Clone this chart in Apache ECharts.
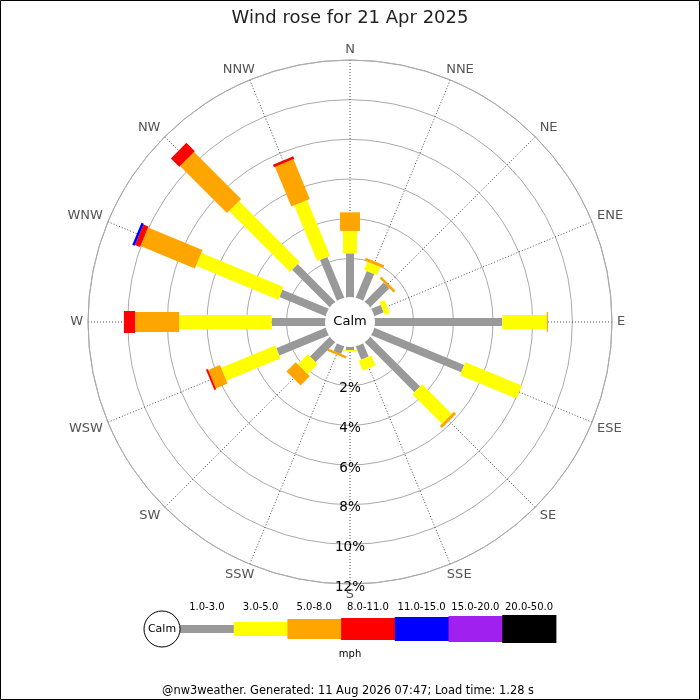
<!DOCTYPE html>
<html>
<head>
<meta charset="utf-8">
<script src="https://cdn.jsdelivr.net/npm/echarts@6/dist/echarts.min.js"></script>
<style>
html,body{margin:0;padding:0;background:#fff;}
#chart{width:700px;height:700px;}
</style>
</head>
<body>
<div id="chart"></div>
<script>
// ---- data (percent of time per direction, per speed band) ----
const directions = ['N','NNE','NE','ENE','E','ESE','SE','SSE','S','SSW','SW','WSW','W','WNW','NW','NNW'];
const speedBands = ['1.0-3.0','3.0-5.0','5.0-8.0','8.0-11.0','11.0-15.0','15.0-20.0','20.0-50.0'];
const band1to3   = [2.25,1.49,1.40,0.55,6.47,4.94,3.59,0.76,0.20,0.45,1.45,2.73,2.74,2.56,2.72,2.26];
const band3to5   = [1.13,0.45,0.00,0.27,2.24,3.08,2.11,0.55,0.07,0.00,0.71,2.95,4.66,4.49,4.34,3.04];
const band5to8   = [0.94,0.15,0.13,0.00,0.06,0.00,0.15,0.00,0.00,0.12,0.66,0.64,2.23,2.97,3.35,2.17];
const band8to11  = [0,0,0,0,0,0,0,0,0,0,0,0.10,0.56,0.27,0.60,0.13];
const band11to15 = [0,0,0,0,0,0,0,0,0,0,0,0,0,0.13,0,0];
const band15to20 = [0,0,0,0,0,0,0,0,0,0,0,0,0,0,0,0];
const band20to50 = [0,0,0,0,0,0,0,0,0,0,0,0,0,0,0,0];
const ringTicks  = [2,4,6,8,10,12];
const ringLabels = ['2%','4%','6%','8%','10%','12%'];
const titleText  = 'Wind rose for 21 Apr 2025';
const unitText   = 'mph';
const calmText   = 'Calm';
const footerText = '@nw3weather. Generated: 11 Aug 2026 07:47; Load time: 1.28 s';

// ---- styles ----
const bandColors = ['#999999','#ffff00','#ffa500','#ff0000','#0000ff','#a020f0','#000000'];
const bandWidths = [8,14,20,22,24,26,28];
const CX = 350, CY = 322, R0 = 24, R1 = 262;
const FONT = 'DejaVu Sans';

const bandValues = [band1to3,band3to5,band5to8,band8to11,band11to15,band15to20,band20to50];
const step = 360 / directions.length;

const barData = [];
directions.forEach((d, i) => {
  let cum = 0;
  bandValues.forEach((arr, b) => {
    const v = arr[i];
    if (v > 0) { barData.push([cum, cum + v, i * step, b]); cum += v; }
  });
});

const measureCtx = document.createElement('canvas').getContext('2d');
function textWidth(t, font) { measureCtx.font = font; return measureCtx.measureText(t).width; }

function unitVec(api, params, a) {
  const cs = params.coordSys;
  const pr = api.coord([12, a]);
  let ux = pr[0] - cs.cx, uy = pr[1] - cs.cy;
  const L = Math.hypot(ux, uy);
  return [ux / L, uy / L];
}

const chart = echarts.init(document.getElementById('chart'), null, {renderer: 'canvas'});

const legendGraphics = [];
const legX0 = 180, legW = 53.7, legCY = 629;
legendGraphics.push({type:'circle', shape:{cx:162, cy:legCY, r:18}, style:{fill:'#fff', stroke:'#000', lineWidth:1}, z:10});
legendGraphics.push({type:'text', x:162, y:legCY, style:{text:calmText, fill:'#000', font:'11px ' + FONT, align:'center', verticalAlign:'middle'}, z:11});
speedBands.forEach((lab, b) => {
  const h = bandWidths[b];
  legendGraphics.push({type:'rect', shape:{x:legX0 + b*legW, y:legCY - h/2, width:legW + 0.5, height:h}, style:{fill:bandColors[b]}, z:9});
  legendGraphics.push({type:'text', x:legX0 + b*legW + legW/2, y:607, style:{text:lab, fill:'#000', font:'10px ' + FONT, align:'center', verticalAlign:'middle'}, z:11});
});
legendGraphics.push({type:'text', x:350, y:654, style:{text:unitText, fill:'#000', font:'10px ' + FONT, align:'center', verticalAlign:'middle'}, z:11});
legendGraphics.push({type:'text', x:348, y:691, style:{text:footerText, fill:'#000', font:'11.4px ' + FONT, align:'center', verticalAlign:'middle'}, z:11});
// calm circle in the middle of the rose
legendGraphics.push({type:'circle', shape:{cx:CX, cy:CY, r:25}, style:{fill:'#fff'}, z:100});
legendGraphics.push({type:'text', x:CX, y:CY, style:{text:calmText, fill:'#000', font:'13px ' + FONT, align:'center', verticalAlign:'middle'}, z:101});
// frame
legendGraphics.push({type:'rect', shape:{x:0.5, y:0.5, width:699, height:699}, style:{fill:'none', stroke:'#000', lineWidth:1}, z:200});

const option = {
  backgroundColor: '#ffffff',
  animation: false,
  title: {
    text: titleText, left: 'center', top: 4,
    textStyle: {fontSize: 18, fontWeight: 'normal', color: '#222', fontFamily: FONT}
  },
  polar: { center: [CX, CY], radius: [R0, R1] },
  angleAxis: {
    type: 'value', min: 0, max: 360, interval: step, startAngle: 90, clockwise: true,
    axisLine: {show: true, lineStyle: {color: '#aaaaaa', width: 1}},
    axisTick: {show: false},
    axisLabel: {show: false},
    splitLine: {show: true, lineStyle: {color: '#222', type: [1, 2], width: 0.8}},
    splitArea: {show: false}
  },
  radiusAxis: {
    type: 'value', min: 0, max: 12, interval: 2,
    axisLine: {show: false}, axisTick: {show: false}, axisLabel: {show: false},
    splitLine: {show: true, lineStyle: {color: '#aaaaaa', width: 1}},
    splitArea: {show: false}
  },
  graphic: legendGraphics,
  series: [
    {
      type: 'custom', coordinateSystem: 'polar', name: 'bars',
      encode: {radius: 1, angle: 2},
      data: barData,
      z: 5,
      renderItem: function (params, api) {
        const s = api.value(0), e = api.value(1), a = api.value(2), b = api.value(3);
        const p0 = api.coord([s, a]);
        const p1 = api.coord([e, a]);
        const u = unitVec(api, params, a);
        const nx = -u[1], ny = u[0];
        const hw = bandWidths[b] / 2;
        return {
          type: 'polygon',
          shape: {points: [
            [p0[0] + nx*hw, p0[1] + ny*hw],
            [p1[0] + nx*hw, p1[1] + ny*hw],
            [p1[0] - nx*hw, p1[1] - ny*hw],
            [p0[0] - nx*hw, p0[1] - ny*hw]
          ]},
          style: {fill: bandColors[b], stroke: null}
        };
      }
    },
    {
      type: 'custom', coordinateSystem: 'polar', name: 'ringLabels',
      encode: {radius: 0, angle: 1},
      data: ringTicks.map((v, k) => [v, 180, k]),
      z: 6,
      renderItem: function (params, api) {
        const p = api.coord([api.value(0), api.value(1)]);
        return {
          type: 'text', x: p[0], y: p[1] + 3,
          style: {text: ringLabels[api.value(2)], fill: '#000', font: '13.5px ' + FONT, align: 'center', verticalAlign: 'middle'}
        };
      }
    },
    {
      type: 'custom', coordinateSystem: 'polar', name: 'dirLabels',
      encode: {radius: 0, angle: 1},
      data: directions.map((d, i) => [12, i * step, i]),
      z: 6,
      renderItem: function (params, api) {
        const a = api.value(1);
        const lab = directions[api.value(2)];
        const u = unitVec(api, params, a);
        const font = '13px ' + FONT;
        const hw = textWidth(lab, font) / 2;
        const end = api.coord([12, a]);
        const ax = Math.abs(u[0]), ay = Math.abs(u[1]);
        const dx = Math.sign(u[0]) * (hw + 5) * Math.min(1, 1.35 * ax);
        const dy = Math.sign(u[1]) * 10.5 * Math.sqrt(ay);
        return {
          type: 'text', x: end[0] + dx, y: end[1] + dy,
          style: {text: lab, fill: '#555', font: font, align: 'center', verticalAlign: 'middle'}
        };
      }
    }
  ]
};
chart.setOption(option);
</script>
</body>
</html>
